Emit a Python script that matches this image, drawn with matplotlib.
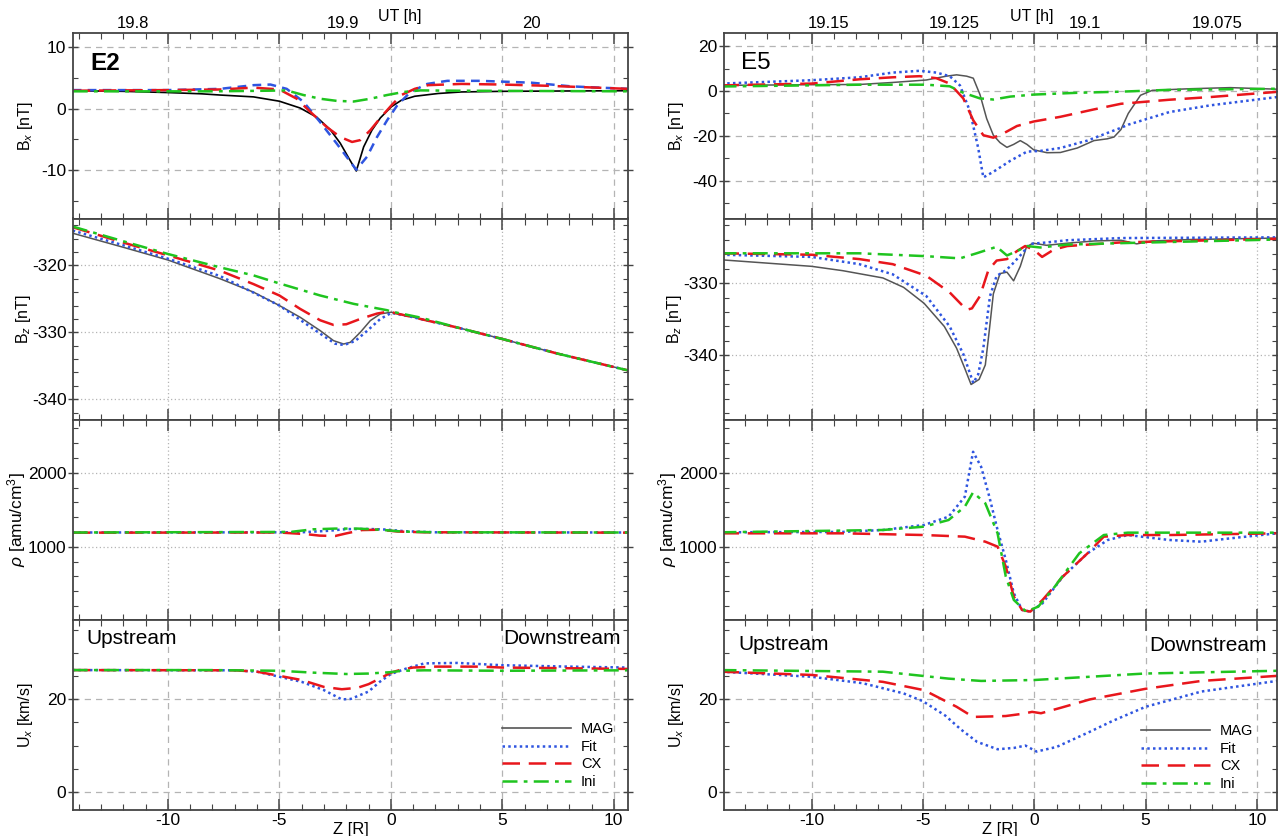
"""Two-column comparison of MAG data with the Fit / CX / Ini model runs (E2 and E5)."""
import matplotlib.pyplot as plt
from matplotlib.lines import Line2D
from matplotlib.ticker import MultipleLocator

plt.rcParams["font.family"] = ["Liberation Sans", "DejaVu Sans"]
plt.rcParams["mathtext.fontset"] = "custom"
plt.rcParams["mathtext.rm"] = "Liberation Sans"
plt.rcParams["mathtext.it"] = "Liberation Sans:italic"
plt.rcParams["axes.unicode_minus"] = False

# ---------------- E2 (left column) ----------------
E2_XLIM = (-14.27, 10.65)
E2_UT_POS = [-11.55, -2.15, 6.3]
E2_UT_LAB = ["19.8", "19.9", "20"]

# Bx
E2_BX_MAG_Z = [-14.27, -12, -10, -8.5, -7.66, -6.16, -5.0, -4.07, -3.32, -2.72, -2.27, -1.89,
               -1.55, -1.22, -0.85, -0.47, 0.02, 0.47, 1.07, 2.12, 3.16, 5, 7.5, 10.65]
E2_BX_MAG = [2.9, 2.8, 2.6, 2.4, 2.2, 1.9, 1.2, 0.1, -1.4, -3.4, -5.6, -8.0,
             -10.1, -6.2, -3.5, -1.5, 0.3, 1.35, 2.0, 2.45, 2.7, 2.8, 2.85, 2.9]
E2_BX_FIT_Z = [-14.27, -10, -7.66, -6.16, -5.4, -4.67, -3.92, -3.17, -2.42, -1.82, -1.55,
               -1.07, -0.62, -0.17, 0.28, 0.88, 1.63, 2.53, 4, 6.3, 8.1, 10.65]
E2_BX_FIT = [3.0, 3.0, 3.2, 3.8, 3.9, 3.2, 1.1, -2.2, -5.7, -8.6, -9.9,
             -7.8, -4.6, -1.9, 0.5, 2.7, 4.0, 4.5, 4.5, 4.2, 3.6, 3.2]
E2_BX_CX_Z = [-14.27, -10, -7.66, -6.16, -5.0, -4.22, -3.62, -2.87, -2.27, -1.74, -1.37,
              -0.92, -0.47, 0.02, 0.47, 1.07, 1.67, 3.16, 5, 7, 10.65]
E2_BX_CX = [2.9, 3.0, 3.1, 3.4, 3.1, 1.6, -0.5, -3.0, -4.6, -5.4, -5.1,
            -3.5, -1.5, 0.5, 2.2, 3.2, 3.8, 4.0, 3.9, 3.7, 3.2]
E2_BX_INI_Z = [-14.27, -8, -5.5, -4.67, -3.92, -3.17, -2.42, -1.67, -0.92, -0.17, 0.58, 1.33, 3, 10.65]
E2_BX_INI = [2.8, 2.8, 2.9, 2.95, 2.2, 1.6, 1.25, 1.15, 1.6, 2.2, 2.7, 2.95, 2.9, 2.8]

# Bz
E2_BZ_MAG_Z = [-14.27, -12, -10, -7.66, -6.16, -5.0, -4.07, -3.17, -2.57, -2.12, -1.82, -1.37,
               -0.92, -0.47, 0.02, 0.58, 1.33, 3.13, 5, 7.5, 10.65]
E2_BZ_MAG = [-315.2, -317.3, -319.2, -322.0, -324.0, -326.0, -327.75, -329.75, -331.25, -331.75,
             -331.5, -330.0, -328.25, -327.25, -327.0, -327.4, -328.0, -329.4, -331.0, -333.2, -335.7]
E2_BZ_FIT_Z = [-14.27, -12, -10, -7.66, -5.0, -3.17, -2.5, -2.1, -1.6, -1.07, -0.47, 0.02,
               0.8, 3, 5, 7.5, 10.65]
E2_BZ_FIT = [-314.8, -317.0, -319.0, -321.6, -326.0, -330.2, -331.7, -331.9, -331.3, -329.8,
             -328.0, -327.1, -327.6, -329.3, -331.0, -333.2, -335.7]
E2_BZ_CX_Z = [-14.27, -12, -10, -7.66, -6.16, -5.0, -4.07, -3.17, -2.57, -2.0, -1.37, -0.62,
              -0.1, 0.8, 3, 5, 7.5, 10.65]
E2_BZ_CX = [-314.3, -316.6, -318.5, -320.8, -322.8, -324.5, -326.5, -328.2, -328.9, -328.8,
            -328.0, -327.2, -326.9, -327.6, -329.3, -331.0, -333.2, -335.7]
E2_BZ_INI_Z = [-14.27, -12, -10, -7.66, -6.16, -5.0, -3.17, -1.67, -0.17, 0.02, 1.33, 3, 5, 7.5, 10.65]
E2_BZ_INI = [-314.2, -316.4, -318.3, -320.3, -321.5, -322.7, -324.5, -325.75, -326.7, -326.9,
             -327.8, -329.3, -331.0, -333.2, -335.7]

# rho
E2_RHO_FIT_Z = [-14.27, -4, -2.8, -2, -1, -0.2, 0.6, 2, 10.65]
E2_RHO_FIT = [1192, 1195, 1215, 1238, 1240, 1232, 1210, 1195, 1192]
E2_RHO_CX_Z = [-14.27, -5, -3.8, -3.2, -2.5, -2.0, -1.3, -0.5, 0.3, 1.5, 10.65]
E2_RHO_CX = [1190, 1192, 1170, 1150, 1145, 1180, 1225, 1230, 1205, 1195, 1190]
E2_RHO_INI_Z = [-14.27, -4.5, -3.5, -2.5, -1.5, -0.5, 0.5, 2, 10.65]
E2_RHO_INI = [1192, 1200, 1235, 1245, 1245, 1230, 1205, 1195, 1192]

# Ux
E2_UX_FIT_Z = [-14.27, -7, -6, -5, -4, -3, -2.2, -1.8, -1, -0.5, 0, 0.7, 1.5, 3, 5, 8, 10.65]
E2_UX_FIT = [26.35, 26.3, 26.0, 24.9, 23.8, 22.0, 20.0, 20.1, 21.7, 23.8, 25.5, 26.7, 27.8,
             27.9, 27.4, 27.1, 26.9]
E2_UX_CX_Z = [-14.27, -7, -6, -5, -4, -3, -2.2, -1.5, -1, -0.5, 0, 0.5, 1, 2, 4, 5, 7, 10.65]
E2_UX_CX = [26.35, 26.3, 26.0, 25.1, 24.2, 22.7, 22.2, 22.5, 23.3, 24.5, 25.8, 26.5, 26.9,
            27.1, 27.1, 26.9, 26.8, 26.6]
E2_UX_INI_Z = [-14.27, -8, -5, -3.5, -2, -1, 0, 0.5, 1.5, 5, 10.65]
E2_UX_INI = [26.35, 26.35, 26.2, 25.8, 25.5, 25.6, 25.9, 26.2, 26.3, 26.2, 26.3]

# ---------------- E5 (right column) ----------------
E5_XLIM = (-13.95, 10.9)
E5_UT_POS = [-9.26, -3.58, 2.26, 8.2]
E5_UT_LAB = ["19.15", "19.125", "19.1", "19.075"]

E5_BX_MAG_Z = [-14.05, -10, -7.86, -6.36, -4.85, -3.95, -3.49, -3.04, -2.74, -2.44, -2.14, -1.84,
               -1.54, -1.23, -0.93, -0.63, -0.33, -0.03, 0.57, 1.17, 1.93, 2.68, 3.28, 3.58,
               3.89, 4.22, 4.77, 5.3, 6.97, 8.8, 10.9]
E5_BX_MAG = [2.5, 2.8, 2.9, 3.8, 4.9, 6.6, 7.2, 6.6, 5.7, -1.6, -12.3, -19.7,
             -23.0, -25.1, -23.8, -22.1, -23.8, -26.2, -27.5, -27.4, -25.4, -22.1, -21.3, -20.5,
             -17.2, -10.0, -1.9, 0.3, 1.0, 1.5, 0.8]
E5_BX_FIT_Z = [-14.05, -10, -7.86, -6.36, -5.15, -4.4, -3.8, -3.34, -2.89, -2.52, -2.29, -1.84,
               -1.08, -0.33, 0.27, 1.17, 2.38, 3.89, 4.22, 6.06, 7.9, 10.9]
E5_BX_FIT = [3.3, 4.8, 6.1, 8.2, 9.0, 8.2, 6.6, 2.5, -9.0, -25.4, -38.5, -36.0,
             -31.1, -27.0, -26.7, -25.4, -22.1, -16.4, -15.0, -9.4, -6.4, -2.7]
E5_BX_CX_Z = [-14.05, -10, -7.86, -6.36, -5.15, -4.4, -3.8, -3.19, -2.74, -2.29, -1.84, -1.39,
              -0.78, -0.03, 1.17, 2.68, 3.89, 6.06, 7.9, 10.9]
E5_BX_CX = [2.5, 3.3, 5.2, 6.1, 6.6, 5.7, 3.3, -3.3, -13.1, -19.7, -20.8, -18.9,
            -15.6, -13.6, -11.5, -8.2, -5.7, -3.9, -2.7, -0.4]
E5_BX_INI_Z = [-14.05, -7.86, -4.85, -3.8, -3.19, -2.44, -1.84, -1.08, -0.03, 1.93, 3.89, 6, 10.9]
E5_BX_INI = [2.0, 2.8, 2.8, 2.1, -0.8, -3.3, -3.8, -2.5, -1.6, -0.8, -0.3, 0.5, 1.0]

E5_BZ_MAG_Z = [-14.05, -10, -8.6, -6.8, -5.87, -4.95, -4.04, -3.49, -3.12, -2.84, -2.48, -2.2,
               -2.02, -1.84, -1.54, -1.23, -0.93, -0.63, -0.35, -0.05, 0.55, 1.5, 2.7, 3.9,
               4.6, 5.3, 7, 10.9]
E5_BZ_MAG = [-326.8, -327.7, -328.3, -329.3, -330.6, -332.8, -336.0, -339.0, -341.8, -344.0,
             -343.3, -341.3, -336.5, -331.5, -328.7, -328.5, -329.7, -327.7, -325.0, -324.5,
             -324.8, -324.5, -324.2, -324.1, -324.6, -324.2, -324.0, -323.8]
E5_BZ_FIT_Z = [-14.05, -10, -7.86, -6.36, -4.85, -3.8, -3.19, -2.74, -2.52, -2.29, -1.99, -1.69,
               -1.39, -1.08, -0.63, -0.18, 0.57, 1.48, 3.89, 10.9]
E5_BZ_FIT = [-326.1, -326.4, -327.4, -328.8, -331.8, -336.0, -339.8, -343.8, -342.6, -339.0,
             -331.8, -329.0, -328.5, -327.7, -326.2, -324.6, -324.4, -324.1, -323.8, -323.7]
E5_BZ_CX_Z = [-14.05, -10, -7.86, -6.36, -4.85, -3.8, -3.04, -2.8, -2.44, -2.06, -1.69, -1.23,
              -0.78, -0.41, -0.03, 0.35, 0.87, 1.48, 3.89, 10.9]
E5_BZ_CX = [-325.9, -326.1, -326.7, -327.4, -329.0, -331.3, -333.7, -333.5, -331.8, -328.2,
            -326.9, -326.7, -325.6, -324.9, -325.4, -326.4, -325.4, -324.9, -324.4, -323.9]
E5_BZ_INI_Z = [-14.05, -7.86, -4.85, -3.34, -2.59, -1.69, -1.23, -0.78, -0.33, 0.27, 1.48, 3.89, 10.9]
E5_BZ_INI = [-325.9, -325.9, -326.3, -326.6, -325.9, -325.0, -326.2, -325.6, -324.9, -325.1,
             -324.7, -324.5, -324.0]

E5_RHO_FIT_Z = [-14.05, -8.6, -6.8, -4.95, -3.85, -3.12, -2.75, -2.39, -2.02, -1.65, -1.28,
                -0.92, -0.55, -0.18, 0.37, 1.28, 2.39, 3.3, 4.2, 6.06, 7.5, 8.8, 10.9]
E5_RHO_FIT = [1195, 1200, 1226, 1294, 1406, 1676, 2283, 2081, 1676, 1226, 821,
              371, 146, 123, 236, 596, 911, 1091, 1158, 1091, 1068, 1113, 1181]
E5_RHO_CX_Z = [-14.05, -8.6, -4.95, -3.12, -2.2, -1.65, -1.28, -0.92, -0.55, -0.18, 0.37,
               1.28, 2.39, 3.12, 4.2, 6.06, 10.9]
E5_RHO_CX = [1181, 1181, 1158, 1136, 1068, 1001, 731, 326, 146, 123, 281,
             596, 911, 1136, 1158, 1158, 1181]
E5_RHO_INI_Z = [-14.05, -6.8, -4.95, -3.85, -3.12, -2.75, -2.2, -1.65, -1.28, -0.92, -0.37,
                0.18, 0.92, 2.02, 3.12, 4.2, 10.9]
E5_RHO_INI = [1195, 1226, 1271, 1361, 1541, 1735, 1586, 1181, 596, 281, 123,
              191, 461, 911, 1158, 1190, 1190]

E5_UX_FIT_Z = [-14.05, -10, -7.7, -5.87, -5.0, -4.0, -3.3, -2.57, -1.65, -0.9, -0.4, 0.1, 1.0,
               2.5, 3.5, 5.0, 7.5, 10.9]
E5_UX_FIT = [26.0, 24.9, 23.5, 21.3, 19.6, 16.5, 13.5, 10.8, 9.2, 9.5, 10.0, 8.7, 9.7,
             13.0, 15.3, 18.4, 21.7, 24.0]
E5_UX_CX_Z = [-14.05, -10, -6.8, -4.95, -3.49, -2.75, -2.0, -1.28, -0.5, -0.1, 0.3, 1.2, 2.5,
              5, 7.5, 10.9]
E5_UX_CX = [26.0, 25.3, 23.8, 22.0, 18.4, 16.2, 16.3, 16.4, 16.9, 17.3, 17.0, 18.2, 20.0,
            22.3, 24.0, 25.1]
E5_UX_INI_Z = [-14.05, -6.8, -3.85, -2.39, 0, 4.95, 10.9]
E5_UX_INI = [26.35, 26.0, 24.5, 24.0, 24.2, 25.6, 26.2]

# ---------------- styling ----------------
C_MAG = "#555555"
C_FIT = "#2f55e0"
C_CX = "#e8161c"
C_INI = "#1fc41f"
LS_FIT = (0, (1.0, 1.3))
LS_FIT_DASH = (0, (3.5, 2.5))
LS_CX = (0, (7, 3.5))
LS_INI = (0, (6, 2.5, 1.5, 2.5))
LW = 1.8

W, H = 1278, 836
ROWS = [33.3, 218.5, 420, 620, 810]
COLS = [(72.7, 628.3), (723.7, 1277.0)]
YLABEL_X = -0.068


def make_axes(fig, col, row):
    x0, x1 = COLS[col]
    y0, y1 = ROWS[row], ROWS[row + 1]
    return fig.add_axes([x0 / W, 1 - y1 / H, (x1 - x0) / W, (y1 - y0) / H])


def style(ax, xlim, ylim, ymaj, ymin, dotted, bottom):
    ax.set_xlim(*xlim)
    ax.set_ylim(*ylim)
    ax.xaxis.set_major_locator(MultipleLocator(5))
    ax.xaxis.set_minor_locator(MultipleLocator(1))
    ax.yaxis.set_major_locator(MultipleLocator(ymaj))
    ax.yaxis.set_minor_locator(MultipleLocator(ymin))
    ax.tick_params(axis="x", which="both", direction="in", top=True, bottom=True,
                   labelbottom=bottom, labelsize=12.5, pad=2, color="#444444")
    ax.tick_params(axis="x", which="major", length=8, width=1.1)
    ax.tick_params(axis="x", which="minor", length=4, width=0.8)
    ax.tick_params(axis="y", which="major", direction="inout", length=7, width=1.0,
                   labelsize=12.5, pad=1, right=True, color="#444444")
    ax.tick_params(axis="y", which="minor", direction="in", length=3.5, width=0.8,
                   right=True, color="#444444")
    for s in ax.spines.values():
        s.set_color("#444444")
        s.set_linewidth(1.3)
    ls = (0, (1, 2)) if dotted else (0, (5, 4))
    ax.grid(True, which="major", color="#b4b4b4", linestyle=ls, linewidth=0.9)
    ax.set_axisbelow(True)


def top_ut(ax, pos, labels):
    sec = ax.secondary_xaxis("top")
    sec.set_xticks(pos, labels=labels)
    sec.tick_params(length=0, pad=1.5, labelsize=12)
    sec.spines["top"].set_visible(False)


fig = plt.figure(figsize=(W / 100, H / 100), dpi=100)

columns = [
    dict(xlim=E2_XLIM, name="E2", bold=True, ut=(E2_UT_POS, E2_UT_LAB), utx=400,
         bx=(-17.8, 12.2, 10, 5), bz=(-343.1, -313.0),
         bx_lines=[(E2_BX_MAG_Z, E2_BX_MAG, "k", "-", 1.2),
                   (E2_BX_FIT_Z, E2_BX_FIT, C_FIT, LS_FIT_DASH, LW),
                   (E2_BX_CX_Z, E2_BX_CX, C_CX, LS_CX, LW),
                   (E2_BX_INI_Z, E2_BX_INI, C_INI, LS_INI, LW)],
         bz_lines=[(E2_BZ_MAG_Z, E2_BZ_MAG), (E2_BZ_FIT_Z, E2_BZ_FIT),
                   (E2_BZ_CX_Z, E2_BZ_CX), (E2_BZ_INI_Z, E2_BZ_INI)],
         rho_lines=[(E2_RHO_FIT_Z, E2_RHO_FIT), (E2_RHO_CX_Z, E2_RHO_CX),
                    (E2_RHO_INI_Z, E2_RHO_INI)],
         ux_lines=[(E2_UX_FIT_Z, E2_UX_FIT), (E2_UX_CX_Z, E2_UX_CX),
                   (E2_UX_INI_Z, E2_UX_INI)],
         up=(0.024, 0.905), down=(0.986, 0.905), leg=(0.975, 0.11)),
    dict(xlim=E5_XLIM, name="E5", bold=False, ut=(E5_UT_POS, E5_UT_LAB), utx=1032,
         bx=(-56.8, 25.7, 20, 10), bz=(-348.9, -321.1),
         bx_lines=[(E5_BX_MAG_Z, E5_BX_MAG, C_MAG, "-", 1.1),
                   (E5_BX_FIT_Z, E5_BX_FIT, C_FIT, LS_FIT, LW),
                   (E5_BX_CX_Z, E5_BX_CX, C_CX, LS_CX, LW),
                   (E5_BX_INI_Z, E5_BX_INI, C_INI, LS_INI, LW)],
         bz_lines=[(E5_BZ_MAG_Z, E5_BZ_MAG), (E5_BZ_FIT_Z, E5_BZ_FIT),
                   (E5_BZ_CX_Z, E5_BZ_CX), (E5_BZ_INI_Z, E5_BZ_INI)],
         rho_lines=[(E5_RHO_FIT_Z, E5_RHO_FIT), (E5_RHO_CX_Z, E5_RHO_CX),
                    (E5_RHO_INI_Z, E5_RHO_INI)],
         ux_lines=[(E5_UX_FIT_Z, E5_UX_FIT), (E5_UX_CX_Z, E5_UX_CX),
                   (E5_UX_INI_Z, E5_UX_INI)],
         up=(0.026, 0.87), down=(0.982, 0.865), leg=(0.957, 0.10)),
]

model_styles = [(C_FIT, LS_FIT), (C_CX, LS_CX), (C_INI, LS_INI)]

for ci, c in enumerate(columns):
    # Bx
    ax = make_axes(fig, ci, 0)
    lo, hi, maj, mnr = c["bx"]
    style(ax, c["xlim"], (lo, hi), maj, mnr, dotted=False, bottom=False)
    for z, v, col, ls, lw in c["bx_lines"]:
        ax.plot(z, v, color=col, linestyle=ls, linewidth=lw)
    ax.set_ylabel(r"B$_x$ [nT]", fontsize=11.5)
    ax.yaxis.set_label_coords(YLABEL_X, 0.5)
    ax.text(0.031, 0.839, c["name"], transform=ax.transAxes, fontsize=17.5,
            fontweight="bold" if c["bold"] else "normal", ha="left", va="center")
    top_ut(ax, *c["ut"])
    fig.text(c["utx"] / W, 1 - 17 / H, "UT [h]", fontsize=11.5, ha="center", va="center")

    # Bz
    ax = make_axes(fig, ci, 1)
    style(ax, c["xlim"], c["bz"], 10, 2, dotted=True, bottom=False)
    z, v = c["bz_lines"][0]
    ax.plot(z, v, color=C_MAG, linestyle="-", linewidth=1.1)
    for (z, v), (col, ls) in zip(c["bz_lines"][1:], model_styles):
        ax.plot(z, v, color=col, linestyle=ls, linewidth=LW)
    ax.set_ylabel(r"B$_z$ [nT]", fontsize=11.5)
    ax.yaxis.set_label_coords(YLABEL_X - 0.004, 0.5)

    # rho
    ax = make_axes(fig, ci, 2)
    style(ax, c["xlim"], (10, 2712), 1000, 200, dotted=True, bottom=False)
    for (z, v), (col, ls) in zip(c["rho_lines"], model_styles):
        ax.plot(z, v, color=col, linestyle=ls, linewidth=LW)
    ax.set_ylabel(r"$\rho$ [amu/cm$^3$]", fontsize=12.5)
    ax.yaxis.set_label_coords(YLABEL_X - 0.012, 0.5)

    # Ux
    ax = make_axes(fig, ci, 3)
    style(ax, c["xlim"], (-3.96, 37.2), 20, 5, dotted=False, bottom=True)
    for (z, v), (col, ls) in zip(c["ux_lines"], model_styles):
        ax.plot(z, v, color=col, linestyle=ls, linewidth=LW)
    ax.set_ylabel(r"U$_x$ [km/s]", fontsize=11.5)
    ax.yaxis.set_label_coords(YLABEL_X, 0.5)
    ax.set_xlabel("Z [R]", fontsize=12, labelpad=-4)
    ax.text(*c["up"], "Upstream", transform=ax.transAxes, fontsize=15,
            ha="left", va="center")
    ax.text(*c["down"], "Downstream", transform=ax.transAxes, fontsize=15,
            ha="right", va="center")
    handles = [
        Line2D([], [], color=C_MAG, linestyle="-", linewidth=1.2, label="MAG"),
        Line2D([], [], color=C_FIT, linestyle=LS_FIT, linewidth=LW, label="Fit"),
        Line2D([], [], color=C_CX, linestyle=LS_CX, linewidth=LW, label="CX"),
        Line2D([], [], color=C_INI, linestyle=LS_INI, linewidth=LW, label="Ini"),
    ]
    ax.legend(handles=handles, loc="lower right", bbox_to_anchor=c["leg"],
              frameon=False, fontsize=10.5, handlelength=4.7, handletextpad=0.7,
              labelspacing=0.25, borderpad=0, borderaxespad=0)

fig.savefig("out.png", dpi=100)
